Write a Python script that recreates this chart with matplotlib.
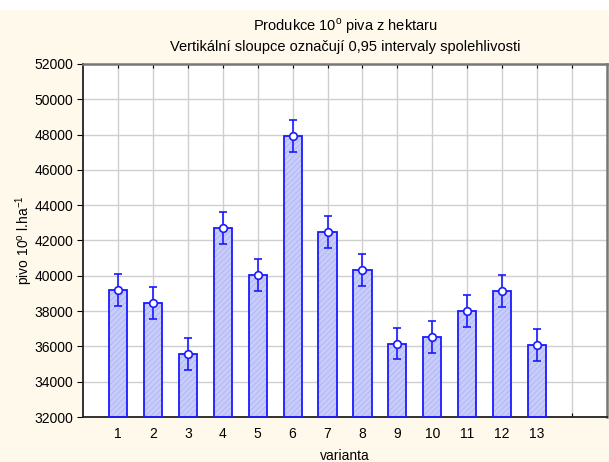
import matplotlib
matplotlib.use("Agg")
import matplotlib.pyplot as plt
from matplotlib.patches import Rectangle

plt.rcParams['font.family'] = ['Liberation Sans', 'DejaVu Sans']
plt.rcParams['mathtext.fontset'] = 'custom'
plt.rcParams['mathtext.rm'] = 'Liberation Sans'
plt.rcParams['hatch.linewidth'] = 0.5

# Data
varianta = [1, 2, 3, 4, 5, 6, 7, 8, 9, 10, 11, 12, 13]
means = [39180, 38460, 35580, 42730, 40060, 47920, 42460, 40340, 36160, 36540, 38010, 39120, 36070]
ci95 = [900, 910, 900, 910, 910, 920, 910, 910, 900, 900, 910, 910, 900]
yticks = list(range(32000, 52001, 2000))

blue = '#1a1aff'

fig = plt.figure(figsize=(6.09, 4.62), dpi=100)
fig.patch.set_facecolor('white')
# cream backdrop (leaves thin white band at top)
fig.patches.append(Rectangle((0, 0), 1, 0.978, transform=fig.transFigure,
                             facecolor='#fff9ec', edgecolor='none', zorder=-10))

ax = fig.add_axes([0.1363, 0.0974, 0.8604, 0.7641])
ax.set_facecolor('white')

# hatched fill then blue outline on top
ax.bar(varianta, [m - 32000 for m in means], bottom=32000, width=0.52,
       color='#c8ccfb', edgecolor='#a9b0f4', linewidth=0, hatch='//////', zorder=2)
ax.bar(varianta, [m - 32000 for m in means], bottom=32000, width=0.52,
       fill=False, edgecolor=blue, linewidth=1.3, zorder=3)
ax.errorbar(varianta, means, yerr=ci95, fmt='o', color=blue, ecolor=blue,
            elinewidth=1.2, capsize=2.8, capthick=1.2, markersize=5.5,
            markerfacecolor='white', markeredgecolor=blue, markeredgewidth=1.2, zorder=4)

ax.set_xlim(0, 15)
ax.set_ylim(32000, 52000)
ax.set_xticks(range(1, 15))
ax.set_xticklabels([str(v) for v in varianta] + [''])
ax.set_yticks(yticks)
ax.grid(True, color='#cfcfcf', linewidth=1.0, zorder=0)
ax.set_axisbelow(True)

ax.tick_params(axis='x', direction='in', length=3, top=True, labelsize=10, pad=7, colors='black')
ax.tick_params(axis='y', direction='out', length=4, labelsize=10, pad=3)
for s in ['left', 'bottom']:
    ax.spines[s].set_color('#222222')
    ax.spines[s].set_linewidth(1.3)
for s in ['top', 'right']:
    ax.spines[s].set_color('#777777')
    ax.spines[s].set_linewidth(1.8)

ax.set_title('Produkce 10$^{\\mathrm{o}}$ piva z hektaru\n'
             'Vertikální sloupce označují 0,95 intervaly spolehlivosti',
             fontsize=10.5, linespacing=1.45, pad=9)
ax.set_xlabel('varianta', fontsize=10, labelpad=6)
ax.set_ylabel('pivo 10$^{\\mathrm{o}}$ l.ha$^{\\mathrm{-1}}$', fontsize=10)
ax.yaxis.set_label_coords(-0.092, 0.5)

fig.savefig('out.png', dpi=100)
